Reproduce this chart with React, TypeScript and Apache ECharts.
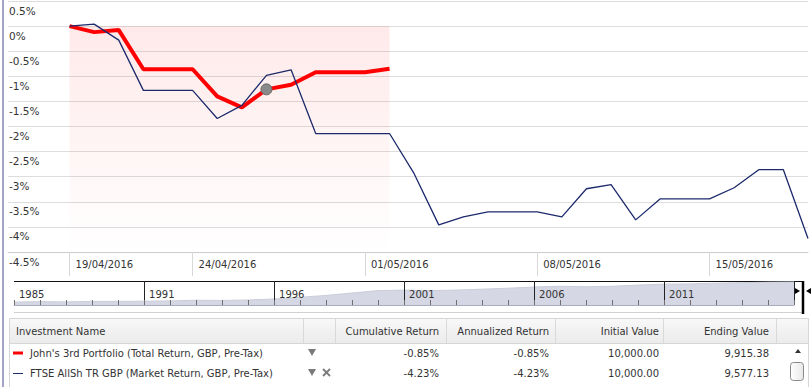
import React, { useEffect, useRef } from 'react';
import * as echarts from 'echarts';

// ---- Data ----
const dates = [
  '19/04/2016', '20/04/2016', '21/04/2016', '22/04/2016', '23/04/2016', '24/04/2016', '25/04/2016',
  '26/04/2016', '27/04/2016', '28/04/2016', '29/04/2016', '30/04/2016', '01/05/2016', '02/05/2016',
  '03/05/2016', '04/05/2016', '05/05/2016', '06/05/2016', '07/05/2016', '08/05/2016', '09/05/2016',
  '10/05/2016', '11/05/2016', '12/05/2016', '13/05/2016', '14/05/2016', '15/05/2016', '16/05/2016',
  '17/05/2016', '18/05/2016', '19/05/2016',
];
const portfolioReturns = [0, -0.12, -0.08, -0.86, -0.86, -0.86, -1.4, -1.62, -1.26, -1.17, -0.92, -0.92, -0.92, -0.85];
const benchmarkReturns = [
  0, 0.04, -0.28, -1.28, -1.28, -1.28, -1.84, -1.58, -0.98, -0.87, -2.14, -2.14, -2.14, -2.14,
  -2.94, -3.96, -3.8, -3.7, -3.7, -3.7, -3.8, -3.24, -3.16, -3.86, -3.44, -3.44, -3.44, -3.22,
  -2.86, -2.86, -4.23,
];
const highlightIndex = 8;
const xTickDates = ['19/04/2016', '24/04/2016', '01/05/2016', '08/05/2016', '15/05/2016'];
const xAxisStart = '16/04/2016 12:00';
const xAxisEnd = '19/05/2016';
const yMin = -4.5;
const yMax = 0.5;
const yStep = 0.5;

const sliderYears = [
  1986, 1987, 1988, 1989, 1990, 1991, 1992, 1993, 1994, 1995, 1996, 1997, 1998, 1999, 2000, 2001,
  2002, 2003, 2004, 2005, 2006, 2007, 2008, 2009, 2010, 2011, 2012, 2013, 2014, 2015, 2016,
];
const sliderValues = [
  12, 14, 13, 15, 15, 16, 17, 20, 19, 21, 25, 32, 40, 50, 60, 62,
  60, 62, 66, 70, 75, 78, 76, 78, 83, 87, 88, 91, 93, 95, 96,
];
const sliderLabelDates = ['31/12/1985', '01/01/1991', '01/01/1996', '01/01/2001', '01/01/2006', '01/01/2011'];
const sliderStart = '31/12/1985';
const sliderEnd = '01/01/2016';

const tableHeaders = ['Investment Name', '', 'Cumulative Return', 'Annualized Return', 'Initial Value', 'Ending Value'];
const investmentNames = [
  "John's 3rd Portfolio (Total Return, GBP, Pre-Tax)",
  'FTSE AllSh TR GBP (Market Return, GBP, Pre-Tax)',
];
const cumulativeReturns = ['-0.85%', '-4.23%'];
const annualizedReturns = ['-0.85%', '-4.23%'];
const initialValues = ['10,000.00', '10,000.00'];
const endingValues = ['9,915.38', '9,577.13'];

// ---- Helpers ----
function toTs(s: string): number {
  const [d, t] = s.split(' ');
  const [dd, mm, yy] = d.split('/').map(Number);
  let h = 0;
  if (t) h = Number(t.split(':')[0]);
  return Date.UTC(yy, mm - 1, dd, h);
}
function pad(n: number) {
  return n < 10 ? '0' + n : '' + n;
}
function fmtDate(v: number) {
  const d = new Date(v);
  return `${pad(d.getUTCDate())}/${pad(d.getUTCMonth() + 1)}/${d.getUTCFullYear()}`;
}

const FONT = '"DejaVu Sans", Verdana, sans-serif';
const RED = '#ff0000';
const NAVY = '#1c2a6c';
const TXT = '#333333';

function buildOption() {
  const ts = dates.map(toTs);
  const portfolioData = portfolioReturns.map((v, i) => [ts[i], v]);
  const benchmarkData = benchmarkReturns.map((v, i) => [ts[i], v]);
  const sliderData = sliderYears.map((y, i) => [Date.UTC(y, 0, 1), sliderValues[i]]);

  // table layout
  const tX = 9, tW = 799, tTop = 318, hdrH = 25, rowH = 20;
  const colSeps = [303, 335, 446, 555, 663, 776];
  const rightEdges = [439, 549, 659, 769];
  const graphic: any[] = [];
  graphic.push({ type: 'rect', shape: { x: 2, y: 0, width: 2, height: 387 }, style: { fill: '#a3a3c3' }, silent: true });
  graphic.push({ type: 'line', shape: { x1: 14, y1: 281.5, x2: 803, y2: 281.5 }, style: { stroke: '#111', lineWidth: 1.2 }, silent: true });
  graphic.push({ type: 'line', shape: { x1: 14, y1: 312.5, x2: 803, y2: 312.5 }, style: { stroke: '#d0d0d0', lineWidth: 1 }, silent: true });
  graphic.push({ type: 'line', shape: { x1: 803, y1: 281, x2: 803, y2: 314 }, style: { stroke: '#000', lineWidth: 2.5 }, silent: true });
  graphic.push({ type: 'polygon', shape: { points: [[795, 288], [795, 294], [800, 291]] }, style: { fill: '#000' }, silent: true });
  graphic.push({ type: 'polygon', shape: { points: [[811, 288], [811, 294], [806, 291]] }, style: { fill: '#000' }, silent: true });
  graphic.push({ type: 'rect', shape: { x: tX + 0.5, y: tTop + 0.5, width: tW, height: 80 }, style: { fill: '#fff', stroke: '#d6d6d6', lineWidth: 1 }, silent: true });
  graphic.push({
    type: 'rect', shape: { x: tX + 1, y: tTop + 1, width: tW - 1, height: hdrH - 1 },
    style: { fill: new echarts.graphic.LinearGradient(0, 0, 0, 1, [{ offset: 0, color: '#f8f8f8' }, { offset: 1, color: '#ebebeb' }]) },
    silent: true,
  });
  graphic.push({ type: 'line', shape: { x1: tX, y1: tTop + hdrH + 0.5, x2: tX + tW, y2: tTop + hdrH + 0.5 }, style: { stroke: '#d6d6d6', lineWidth: 1 }, silent: true });
  colSeps.forEach((x) => {
    graphic.push({ type: 'line', shape: { x1: x + 0.5, y1: tTop + 1, x2: x + 0.5, y2: tTop + hdrH }, style: { stroke: '#d9d9d9', lineWidth: 1 }, silent: true });
  });
  const textEl = (text: string, x: number, y: number, align: string) => ({
    type: 'text', x, y, silent: true,
    style: { text, fill: TXT, fontSize: 10, fontFamily: FONT, align, verticalAlign: 'middle' },
  });
  const hdrY = tTop + hdrH / 2 + 0.5;
  graphic.push(textEl(tableHeaders[0], 16, hdrY, 'left'));
  tableHeaders.slice(2).forEach((h, i) => graphic.push(textEl(h, rightEdges[i], hdrY, 'right')));
  const colors = [RED, NAVY];
  investmentNames.forEach((name, r) => {
    const cy = tTop + hdrH + 10 + r * rowH;
    if (r === 0) {
      graphic.push({ type: 'rect', shape: { x: 13, y: cy - 1.5, width: 10, height: 3 }, style: { fill: colors[r] }, silent: true });
    } else {
      graphic.push({ type: 'line', shape: { x1: 13, y1: cy + 0.5, x2: 23, y2: cy + 0.5 }, style: { stroke: colors[r], lineWidth: 1 }, silent: true });
    }
    graphic.push(textEl(name, 30, cy, 'left'));
    graphic.push({ type: 'polygon', shape: { points: [[308, cy - 4], [316, cy - 4], [312, cy + 3]] }, style: { fill: '#7a7a7a' }, silent: true });
    if (r === 1) {
      graphic.push({ type: 'line', shape: { x1: 323, y1: cy - 4, x2: 330, y2: cy + 3 }, style: { stroke: '#7a7a7a', lineWidth: 1.8 }, silent: true });
      graphic.push({ type: 'line', shape: { x1: 330, y1: cy - 4, x2: 323, y2: cy + 3 }, style: { stroke: '#7a7a7a', lineWidth: 1.8 }, silent: true });
    }
    graphic.push(textEl(cumulativeReturns[r], rightEdges[0], cy, 'right'));
    graphic.push(textEl(annualizedReturns[r], rightEdges[1], cy, 'right'));
    graphic.push(textEl(initialValues[r], rightEdges[2], cy, 'right'));
    graphic.push(textEl(endingValues[r], rightEdges[3], cy, 'right'));
  });
  graphic.push({ type: 'polygon', shape: { points: [[795, 353], [801, 353], [798, 349]] }, style: { fill: '#333' }, silent: true });
  graphic.push({
    type: 'rect', shape: { x: 790.5, y: 362.5, width: 13, height: 18, r: 3 },
    style: { fill: new echarts.graphic.LinearGradient(1, 0, 0, 0, [{ offset: 0, color: '#e8e8e8' }, { offset: 1, color: '#ffffff' }]), stroke: '#8a8a8a', lineWidth: 1 },
    silent: true,
  });

  return {
    animation: false,
    backgroundColor: '#ffffff',
    grid: [
      { left: 8, right: 3, top: 1, height: 251, containLabel: false },
      { left: 14, right: 17, top: 281, height: 24, containLabel: false },
    ],
    xAxis: [
      {
        type: 'value', gridIndex: 0, min: toTs(xAxisStart), max: toTs(xAxisEnd),
        axisLine: { show: true, onZero: false, lineStyle: { color: '#cccccc', width: 1 } },
        axisTick: { show: true, customValues: xTickDates.map(toTs), length: 24, lineStyle: { color: '#d8d8d8' } },
        axisLabel: {
          show: true, customValues: xTickDates.map(toTs), formatter: (v: number) => fmtDate(v),
          align: 'left', padding: [0, 0, 0, 6], margin: 7, color: TXT, fontSize: 10, fontFamily: FONT,
        },
        splitLine: { show: false },
      },
      {
        type: 'value', gridIndex: 1, min: toTs(sliderStart), max: toTs(sliderEnd), z: 10,
        axisLine: { show: true, onZero: false, lineStyle: { color: '#a9adbd', width: 1 } },
        axisTick: { show: true, inside: true, length: 5, customValues: sliderYears.map((y) => Date.UTC(y, 0, 1)), lineStyle: { color: '#6f6f6f', width: 1 } },
        axisLabel: {
          show: true, inside: true, customValues: sliderLabelDates.map(toTs),
          formatter: (v: number) => String(new Date(v).getUTCFullYear()),
          align: 'left', verticalAlign: 'middle', padding: [0, 0, 0, 5], margin: 11,
          color: TXT, fontSize: 10, fontFamily: FONT,
        },
        splitLine: { show: false },
      },
    ],
    yAxis: [
      {
        type: 'value', gridIndex: 0, min: yMin, max: yMax, interval: yStep,
        axisLine: { show: false }, axisTick: { show: false },
        axisLabel: {
          inside: true, align: 'left', verticalAlign: 'top', margin: 1, padding: [4, 0, 0, 0],
          formatter: (v: number) => `${v}%`, color: TXT, fontSize: 10.5, fontFamily: FONT,
        },
        splitLine: { show: true, lineStyle: { color: '#dddddd', width: 1 } },
      },
      { type: 'value', gridIndex: 1, min: 0, max: 100, show: false },
    ],
    series: [
      {
        name: investmentNames[0], type: 'line', xAxisIndex: 0, yAxisIndex: 0, data: portfolioData,
        symbol: 'none', lineStyle: { color: RED, width: 4 }, z: 2, silent: true,
        markArea: {
          silent: true,
          itemStyle: {
            color: new echarts.graphic.LinearGradient(0, 0, 0, 1, [
              { offset: 0, color: 'rgba(255,40,40,0.1)' },
              { offset: 1, color: 'rgba(255,40,40,0.0)' },
            ]),
          },
          data: [[
            { xAxis: ts[0], yAxis: Math.max(...portfolioReturns) },
            { xAxis: ts[portfolioReturns.length - 1], yAxis: yMin },
          ]],
        },
      },
      {
        name: investmentNames[1], type: 'line', xAxisIndex: 0, yAxisIndex: 0, data: benchmarkData,
        symbol: 'none', lineStyle: { color: NAVY, width: 1.3 }, z: 3, silent: true,
      },
      {
        type: 'scatter', xAxisIndex: 0, yAxisIndex: 0,
        data: [[ts[highlightIndex], portfolioReturns[highlightIndex]]],
        symbol: 'circle', symbolSize: 11,
        itemStyle: { color: '#8a8a8a', borderColor: '#6a6a6a', borderWidth: 1, opacity: 1 },
        z: 4, silent: true,
      },
      {
        type: 'line', xAxisIndex: 1, yAxisIndex: 1, data: sliderData, symbol: 'none', z: 1,
        lineStyle: { color: '#c9cdda', width: 1 }, areaStyle: { color: '#d5d8e4', opacity: 1 }, silent: true,
        markLine: {
          silent: true, symbol: 'none', label: { show: false },
          lineStyle: { color: '#222', width: 1, type: 'solid' },
          data: sliderLabelDates.slice(1).map((d) => ({ xAxis: toTs(d) })).concat([{ xAxis: toTs(sliderEnd) }]),
        },
      },
    ],
    graphic,
  };
}

export default function App() {
  const ref = useRef<HTMLDivElement>(null);
  useEffect(() => {
    const chart = echarts.init(ref.current as HTMLDivElement, null, { renderer: 'svg' });
    chart.setOption(buildOption() as any);
    return () => chart.dispose();
  }, []);
  return (
    <div
      ref={ref}
      style={{ position: 'fixed', left: 0, top: 0, width: 811, height: 387, background: '#fff' }}
    />
  );
}
